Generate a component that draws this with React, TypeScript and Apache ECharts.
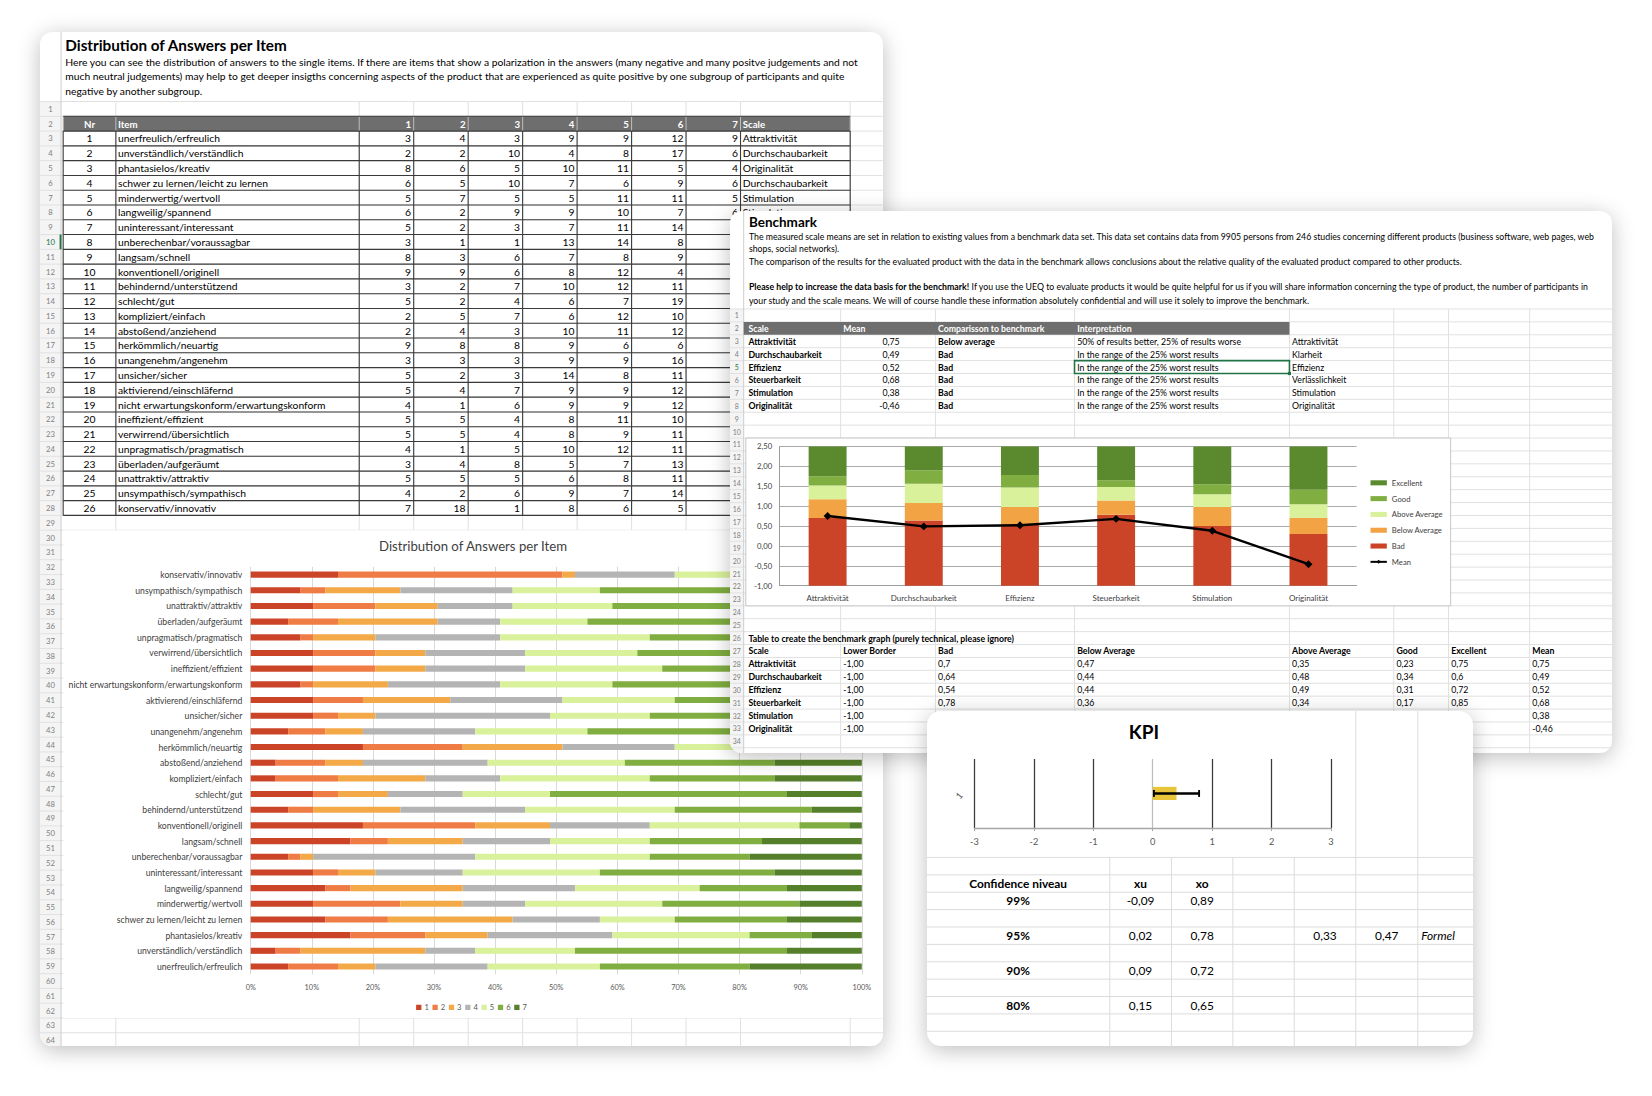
import React, { useEffect, useRef } from "react";
import * as echarts from "echarts";

const K = 1652 / 1568;
const FONT = "Lato, 'Noto Sans', 'DejaVu Sans', sans-serif";
const GREEN_SEL = "#217346";

// ---------------- DATA: distribution of answers ----------------
const itemNames = [
  "unerfreulich/erfreulich", "unverständlich/verständlich", "phantasielos/kreativ",
  "schwer zu lernen/leicht zu lernen", "minderwertig/wertvoll", "langweilig/spannend",
  "uninteressant/interessant", "unberechenbar/voraussagbar", "langsam/schnell",
  "konventionell/originell", "behindernd/unterstützend", "schlecht/gut",
  "kompliziert/einfach", "abstoßend/anziehend", "herkömmlich/neuartig",
  "unangenehm/angenehm", "unsicher/sicher", "aktivierend/einschläfernd",
  "nicht erwartungskonform/erwartungskonform", "ineffizient/effizient",
  "verwirrend/übersichtlich", "unpragmatisch/pragmatisch", "überladen/aufgeräumt",
  "unattraktiv/attraktiv", "unsympathisch/sympathisch", "konservativ/innovativ",
];
const itemScales = [
  "Attraktivität", "Durchschaubarkeit", "Originalität", "Durchschaubarkeit", "Stimulation",
  "Stimulation", "Stimulation", "Steuerbarkeit", "Effizienz", "Originalität", "Steuerbarkeit",
  "Attraktivität", "Durchschaubarkeit", "Attraktivität", "Originalität", "Attraktivität",
  "Steuerbarkeit", "Stimulation", "Steuerbarkeit", "Effizienz", "Durchschaubarkeit",
  "Effizienz", "Effizienz", "Attraktivität", "Attraktivität", "Originalität",
];
const answers1 = [3, 2, 8, 6, 5, 6, 5, 3, 8, 9, 3, 5, 2, 2, 9, 3, 5, 5, 4, 5, 5, 4, 3, 5, 4, 7];
const answers2 = [4, 2, 6, 5, 7, 2, 2, 1, 3, 9, 2, 2, 5, 4, 8, 3, 2, 4, 1, 5, 5, 1, 4, 5, 2, 18];
const answers3 = [3, 10, 5, 10, 5, 9, 3, 1, 6, 6, 7, 4, 7, 3, 8, 3, 3, 7, 6, 4, 4, 5, 8, 5, 6, 1];
const answers4 = [9, 4, 10, 7, 5, 9, 7, 13, 7, 8, 10, 6, 6, 10, 9, 9, 14, 9, 9, 8, 8, 10, 5, 6, 9, 8];
const answers5 = [9, 8, 11, 6, 11, 10, 11, 14, 8, 12, 12, 7, 12, 11, 6, 9, 8, 9, 9, 11, 9, 12, 7, 8, 7, 6];
const answers6 = [12, 17, 5, 9, 11, 7, 14, 8, 9, 4, 11, 19, 10, 12, 6, 16, 11, 12, 12, 10, 11, 11, 13, 11, 14, 5];
const answers7 = [9, 6, 4, 6, 5, 6, 7, 9, 8, 1, 4, 6, 7, 7, 3, 6, 6, 3, 8, 6, 7, 6, 9, 9, 7, 4];
const answerCategories = ["1", "2", "3", "4", "5", "6", "7"];
const answerColors = ["#cb4427", "#ef7b45", "#f4a948", "#b4b4b4", "#d9f19b", "#80ae40", "#557f2a"];
const pctTicks = [0, 100, 10];

const leftTitle = "Distribution of Answers per Item";
const leftDescription = [
  "Here you can see the distribution of answers to the single items. If there are items that show a polarization in the answers (many negative and many positve judgements and not",
  "much neutral judgements) may help to get deeper insigths concerning aspects of the product that are experienced as quite positive by one subgroup of participants and quite",
  "negative by another subgroup.",
];

// ---------------- DATA: benchmark ----------------
const benchScales = ["Attraktivität", "Durchschaubarkeit", "Effizienz", "Steuerbarkeit", "Stimulation", "Originalität"];
const benchMeans = [0.75, 0.49, 0.52, 0.68, 0.38, -0.46];
const benchComparison = ["Below average", "Bad", "Bad", "Bad", "Bad", "Bad"];
const benchInterpretation = [
  "50% of results better, 25% of results worse",
  "In the range of the 25% worst results",
  "In the range of the 25% worst results",
  "In the range of the 25% worst results",
  "In the range of the 25% worst results",
  "In the range of the 25% worst results",
];
const benchAltNames = ["Attraktivität", "Klarheit", "Effizienz", "Verlässlichkeit", "Stimulation", "Originalität"];
const lowerBorder = [-1, -1, -1, -1, -1, -1];
const bandBad = [0.7, 0.64, 0.54, 0.78, 0.5, 0.3];
const bandBelow = [0.47, 0.44, 0.44, 0.36, 0.48, 0.41];
const bandAbove = [0.35, 0.48, 0.49, 0.34, 0.32, 0.34];
const bandGood = [0.23, 0.34, 0.31, 0.17, 0.25, 0.36];
const bandExcellent = [0.75, 0.6, 0.72, 0.85, 0.95, 1.09];
const benchBandNames = ["Bad", "Below Average", "Above Average", "Good", "Excellent"];
const benchBandColors = ["#cb4427", "#f2a444", "#d9f19b", "#80ae40", "#5a8a2d"];
const benchTableHeaders = ["Scale", "Lower Border", "Bad", "Below Average", "Above Average", "Good", "Excellent", "Mean"];
const benchTopHeaders = ["Scale", "Mean", "Comparisson to benchmark", "Interpretation"];
const benchTexts = [
  "The measured scale means are set in relation to existing values from a benchmark data set. This data set contains data from 9905 persons from 246 studies concerning different products (business software, web pages, web",
  "shops, social networks).",
  "The comparison of the results for the evaluated product with the data in the benchmark allows conclusions about the relative quality of the evaluated product compared to other products.",
];
const benchPleaseBold = "Please help to increase the data basis for the benchmark!";
const benchPleaseRest = " If you use the UEQ to evaluate products it would be quite helpful for us if you will share information concerning the type of product, the number of participants in";
const benchLastLine = "your study and the scale means. We will of course handle these information absolutely confidential and will use it solely to improve the benchmark.";

// ---------------- DATA: KPI ----------------
const kpiCategory = ["1"];
const kpiValue = [0.4];
const kpiLow = [0.02];
const kpiHigh = [0.78];
const confLevels = ["99%", "95%", "90%", "80%"];
const confXu = [-0.09, 0.02, 0.09, 0.15];
const confXo = [0.89, 0.78, 0.72, 0.65];
const kpiExtra = [0.33, 0.47];

const fmt2 = (v: number) => v.toFixed(2).replace(".", ",");
const fmtRaw = (v: number) => String(v).replace(".", ",");

// ---------------- helpers ----------------
function txt(x: number, y: number, text: string, size: number, o: any = {}) {
  const style: any = {
    text,
    fontSize: size,
    fontFamily: FONT,
    fontWeight: o.bold ? "bold" : "normal",
    fontStyle: o.italic ? "italic" : "normal",
    fill: o.fill ?? "#000",
    align: o.align ?? "left",
    verticalAlign: "middle",
  };
  if (o.rich) style.rich = o.rich;
  return { type: "text", x, y, z: o.z ?? 4, silent: true, style };
}
function ln(x1: number, y1: number, x2: number, y2: number, stroke: string, lw = 1, z = 0) {
  return { type: "line", z, silent: true, shape: { x1, y1, x2, y2 }, style: { stroke, lineWidth: lw } };
}
function rc(x: number, y: number, w: number, h: number, fill: string, z = 1, stroke?: string, lw = 1) {
  return {
    type: "rect", z, silent: true,
    shape: { x, y, width: w, height: h },
    style: { fill, stroke: stroke ?? null, lineWidth: lw },
  };
}

// ---------------- left panel ----------------
function buildLeft(W: number, H: number) {
  const ox = 38, oy = 30;
  const X = (v: number) => (v - ox) * K;
  const Y = (v: number) => (v - oy) * K;
  const S = (v: number) => v * K;
  const rowH = 14.03;
  const rowTop = (r: number) => 96 + (r - 1) * rowH;
  const rowMid = (r: number) => rowTop(r) + rowH / 2;
  const bottom = 993;
  const coveredFromY = 203; // area right of x=690 is covered by the benchmark sheet below this
  const sheetCols = [110, 341, 392.7, 444.4, 496.1, 547.8, 599.5, 651.2, 702.9, 807];
  const tableCols = [60, ...sheetCols];
  const fsT = S(9.8);
  const els: any[] = [];

  els.push(rc(X(38), Y(96), S(20), Y(bottom) - Y(96), "#f4f4f4", 0));
  for (let r = 1; rowTop(r) <= bottom; r++) els.push(ln(X(38), Y(rowTop(r)), X(838), Y(rowTop(r)), "#e1e1e1", 1, 0));
  sheetCols.forEach((c) => els.push(ln(X(c), Y(96), X(c), Y(bottom), "#e1e1e1", 1, 0)));
  els.push(ln(X(58), Y(30), X(58), Y(bottom), "#cdcdcd", 1, 0));
  for (let r = 1; rowMid(r) < bottom; r++) {
    els.push(txt(X(48), Y(rowMid(r)), String(r), S(7.3), { align: "center", fill: r === 10 ? GREEN_SEL : "#808080", z: 1 }));
  }
  els.push(rc(X(56.6), Y(rowTop(10)), S(1.8), S(rowH), GREEN_SEL, 1));

  els.push(txt(X(62), Y(42), leftTitle, S(14.5), { bold: true }));
  leftDescription.forEach((line, k) => els.push(txt(X(62), Y(58 + k * 14.2), line, S(9.8))));

  // table header
  els.push(rc(X(60), Y(rowTop(2)), X(807) - X(60), S(rowH), "#6e6e6e", 1));
  const hy = Y(rowMid(2));
  const hOpt = { bold: true, fill: "#fff", z: 3 };
  els.push(txt(X(85), hy, "Nr", S(9.2), { ...hOpt, align: "center" }));
  els.push(txt(X(112), hy, "Item", S(9.2), hOpt));
  answerCategories.forEach((c, k) => els.push(txt(X(tableCols[k + 3] - 2.5), hy, c, S(9.2), { ...hOpt, align: "right" })));
  els.push(txt(X(705), hy, "Scale", S(9.2), hOpt));
  tableCols.forEach((c) => els.push(ln(X(c), Y(rowTop(2)), X(c), Y(rowTop(3)), "#bdbdbd", 1, 2)));

  // table body
  const answersAll = [answers1, answers2, answers3, answers4, answers5, answers6, answers7];
  itemNames.forEach((name, i) => {
    const ym = rowMid(i + 3);
    const y = Y(ym);
    const visibleRight = ym < coveredFromY;
    els.push(txt(X(85), y, String(i + 1), fsT, { align: "center" }));
    els.push(txt(X(112), y, name, fsT));
    answersAll.forEach((arr, k) => {
      if (k < 6 || visibleRight) els.push(txt(X(tableCols[k + 3] - 2.5), y, String(arr[i]), fsT, { align: "right" }));
    });
    if (visibleRight) els.push(txt(X(705), y, itemScales[i], fsT));
  });
  for (let r = 2; r <= 29; r++) els.push(ln(X(60), Y(rowTop(r)), X(807), Y(rowTop(r)), "#3a3a3a", 1.1, 2));
  tableCols.forEach((c) => els.push(ln(X(c), Y(rowTop(3)), X(c), Y(rowTop(29)), "#3a3a3a", 1.1, 2)));

  // chart area
  els.push(rc(X(60), Y(rowTop(30)), X(838) - X(60) + 2, Y(rowTop(63)) - Y(rowTop(30)), "#ffffff", 1));
  els.push(txt(X(449), Y(518), leftTitle, S(12.5), { align: "center", fill: "#404040", z: 5 }));

  const total = itemNames.map((_, i) => answersAll.reduce((s, a) => s + a[i], 0));

  return {
    animation: false,
    graphic: els,
    grid: { left: X(238), right: W - X(818), top: Y(537.6), bottom: H - Y(924.4), containLabel: false },
    legend: {
      data: answerCategories,
      left: X(395),
      top: Y(952),
      padding: 0,
      icon: "rect",
      itemWidth: S(5),
      itemHeight: S(5),
      itemGap: S(3.5),
      textStyle: { fontSize: S(7.2), color: "#595959", fontFamily: FONT, padding: [0, 0, 0, -2] },
      z: 6,
    },
    xAxis: {
      type: "value",
      min: pctTicks[0],
      max: pctTicks[1],
      interval: pctTicks[2],
      z: 2,
      axisLine: { show: false },
      axisTick: { show: false },
      axisLabel: { formatter: "{value}%", fontSize: S(7), color: "#595959", fontFamily: FONT, margin: S(9) },
      splitLine: { lineStyle: { color: "#d9d9d9", width: 1 } },
    },
    yAxis: {
      type: "category",
      data: itemNames,
      z: 2,
      axisLine: { show: false },
      axisTick: { show: false },
      axisLabel: { fontSize: S(8.2), color: "#404040", fontFamily: FONT, margin: S(8) },
    },
    series: answersAll.map((arr, j) => ({
      name: answerCategories[j],
      type: "bar",
      stack: "answers",
      barWidth: S(5.8),
      z: 3,
      itemStyle: { color: answerColors[j] },
      data: arr.map((v, i) => Math.round((v / total[i]) * 100000) / 1000),
    })),
  };
}

// ---------------- benchmark panel ----------------
function buildBench(W: number, H: number) {
  const ox = 693, oy = 200;
  const X = (v: number) => (v - ox) * K;
  const Y = (v: number) => (v - oy) * K;
  const S = (v: number) => v * K;
  const rowH = 12.25;
  const rowTop = (r: number) => 293 + (r - 1) * rowH;
  const rowMid = (r: number) => rowTop(r) + rowH / 2;
  const bottom = 715;
  const cols = [798, 888, 1020, 1224, 1323, 1375, 1452];
  const textCols = [710.5, 800.5, 890.5, 1022.5, 1226.5, 1325.5, 1377.5, 1454.5];
  const fs = S(8.3);
  const fsC = S(7.3);
  const els: any[] = [];

  els.push(rc(X(693), Y(293), X(706) - X(693), Y(bottom) - Y(293), "#f4f4f4", 0));
  for (let r = 1; rowTop(r) <= bottom; r++) els.push(ln(X(693), Y(rowTop(r)), X(1535), Y(rowTop(r)), "#e1e1e1", 1, 0));
  cols.forEach((c) => els.push(ln(X(c), Y(293), X(c), Y(bottom), "#e1e1e1", 1, 0)));
  els.push(ln(X(706), Y(200), X(706), Y(bottom), "#cdcdcd", 1, 0));
  for (let r = 1; rowMid(r) < bottom; r++) {
    els.push(txt(X(699.5), Y(rowMid(r)), String(r), S(6.6), { align: "center", fill: r === 5 ? GREEN_SEL : "#808080", z: 1 }));
  }

  els.push(txt(X(711), Y(210.5), "Benchmark", S(12.8), { bold: true }));
  els.push(txt(X(711), Y(224), benchTexts[0], fs));
  els.push(txt(X(711), Y(236), benchTexts[1], fs));
  els.push(txt(X(711), Y(248), benchTexts[2], fs));
  els.push(txt(X(711), Y(272), `{b|${benchPleaseBold}}{n|${benchPleaseRest}}`, fs, {
    rich: {
      b: { fontWeight: "bold", fontSize: fs, fontFamily: FONT, fill: "#000" },
      n: { fontSize: fs, fontFamily: FONT, fill: "#000" },
    },
  }));
  els.push(txt(X(711), Y(284.5), benchLastLine, fs));

  // top table
  els.push(rc(X(706), Y(rowTop(2)), X(1224) - X(706), S(rowH), "#6e6e6e", 1));
  [710.5, 800.5, 890.5, 1022.5].forEach((c, k) =>
    els.push(txt(X(c), Y(rowMid(2)), benchTopHeaders[k], fs, { bold: true, fill: "#fff" })));
  benchScales.forEach((s, i) => {
    const y = Y(rowMid(i + 3));
    els.push(txt(X(710.5), y, s, fs, { bold: true }));
    els.push(txt(X(854), y, fmt2(benchMeans[i]), fs, { align: "right" }));
    els.push(txt(X(890.5), y, benchComparison[i], fs, { bold: true }));
    els.push(txt(X(1022.5), y, benchInterpretation[i], fs));
    els.push(txt(X(1226.5), y, benchAltNames[i], fs));
  });
  els.push(rc(X(1020), Y(rowTop(5)), X(1224) - X(1020), S(rowH), "rgba(0,0,0,0)", 3, GREEN_SEL, S(1.5)));
  els.push(rc(X(1222.5), Y(rowTop(6)) - S(1.5), S(3), S(3), GREEN_SEL, 3));

  // chart box
  els.push(rc(X(708), Y(rowTop(11)), X(1377) - X(708), Y(rowTop(24)) - Y(rowTop(11)), "#ffffff", 1, "#c6c6c6", 1));

  // bottom table (cells behind the KPI sheet are not drawn)
  els.push(txt(X(710.5), Y(rowMid(26)), "Table to create the benchmark graph (purely technical, please ignore)", fs, { bold: true }));
  benchTableHeaders.forEach((h, k) => els.push(txt(X(textCols[k]), Y(rowMid(27)), h, fs, { bold: true })));
  benchScales.forEach((s, i) => {
    const ym = rowMid(i + 28);
    const y = Y(ym);
    const vals = [fmt2(lowerBorder[i]), fmtRaw(bandBad[i]), fmtRaw(bandBelow[i]), fmtRaw(bandAbove[i]),
      fmtRaw(bandGood[i]), fmtRaw(bandExcellent[i]), fmt2(benchMeans[i])];
    els.push(txt(X(textCols[0]), y, s, fs, { bold: true }));
    vals.forEach((v, k) => {
      const cx = textCols[k + 1];
      const hidden = ym > 674 && cx > 878 && cx < 1400;
      if (!hidden) els.push(txt(X(cx), y, v, fs));
    });
  });

  const bands = [bandBad, bandBelow, bandAbove, bandGood, bandExcellent];
  return {
    animation: false,
    graphic: els,
    grid: { left: X(740), right: W - X(1287.7), top: Y(423.5), bottom: H - Y(555.6), containLabel: false },
    legend: {
      orient: "vertical",
      left: X(1300),
      top: Y(453.5),
      padding: 0,
      itemWidth: S(15.5),
      itemHeight: S(4.8),
      itemGap: S(6),
      textStyle: { fontSize: fsC, color: "#404040", fontFamily: FONT, lineHeight: S(9) },
      data: [
        { name: "Excellent", icon: "rect" },
        { name: "Good", icon: "rect" },
        { name: "Above Average", icon: "rect" },
        { name: "Below Average", icon: "rect" },
        { name: "Bad", icon: "rect" },
        { name: "Mean" },
      ],
      z: 6,
    },
    xAxis: {
      type: "category",
      data: benchScales,
      z: 2,
      axisLine: { onZero: false, lineStyle: { color: "#9c9c9c" } },
      axisTick: { show: false },
      axisLabel: { fontSize: S(7.6), color: "#404040", fontFamily: FONT, margin: S(8) },
    },
    yAxis: {
      type: "value",
      min: -1,
      max: 2.5,
      interval: 0.5,
      z: 2,
      axisLine: { show: true, lineStyle: { color: "#9c9c9c" } },
      axisTick: { show: false },
      axisLabel: { fontSize: fsC, color: "#404040", fontFamily: FONT, margin: S(7), formatter: (v: number) => fmt2(v) },
      splitLine: { lineStyle: { color: "#ababab", width: 1 } },
    },
    series: [
      { name: "Lower Border", type: "bar", stack: "bm", barWidth: S(36), z: 3, itemStyle: { color: benchBandColors[0] }, data: lowerBorder },
      ...bands.map((d, j) => ({
        name: benchBandNames[j], type: "bar", stack: "bm", barWidth: S(36), z: 3,
        itemStyle: { color: benchBandColors[j] }, data: d,
      })),
      {
        name: "Mean", type: "line", z: 5, data: benchMeans, symbol: "diamond", symbolSize: S(7.5),
        lineStyle: { color: "#000", width: S(2.3) }, itemStyle: { color: "#000" },
      },
    ],
  };
}

// ---------------- KPI panel ----------------
function buildKpi(W: number, H: number) {
  const ox = 880, oy = 675;
  const X = (v: number) => (v - ox) * K;
  const Y = (v: number) => (v - oy) * K;
  const S = (v: number) => v * K;
  const rowH = 16.5;
  const bottom = 993;
  const els: any[] = [];
  for (let k = 0; 814 + k * rowH <= bottom; k++) els.push(ln(X(880), Y(814 + k * rowH), X(1400), Y(814 + k * rowH), "#dcdcdc", 1, 0));
  [1053.5, 1112, 1170.3, 1228.6].forEach((c) => els.push(ln(X(c), Y(814), X(c), Y(bottom), "#dcdcdc", 1, 0)));
  [1287, 1345.8].forEach((c) => els.push(ln(X(c), Y(675), X(c), Y(bottom), "#dcdcdc", 1, 0)));

  els.push(txt(X(1086), Y(694.5), "KPI", S(18), { bold: true, align: "center" }));
  const fs = S(11.3);
  const mid = (k: number) => Y(814 + k * rowH + rowH / 2);
  els.push(txt(X(966.5), mid(1), "Confidence niveau", fs, { bold: true, align: "center" }));
  els.push(txt(X(1082.7), mid(1), "xu", fs, { bold: true, align: "center" }));
  els.push(txt(X(1141.1), mid(1), "xo", fs, { bold: true, align: "center" }));
  confLevels.forEach((c, i) => {
    const y = mid(2 + 2 * i);
    els.push(txt(X(966.5), y, c, fs, { bold: true, align: "center" }));
    els.push(txt(X(1082.7), y, fmt2(confXu[i]), fs, { align: "center" }));
    els.push(txt(X(1141.1), y, fmt2(confXo[i]), fs, { align: "center" }));
  });
  els.push(txt(X(1257.8), mid(4), fmt2(kpiExtra[0]), fs, { align: "center" }));
  els.push(txt(X(1316.4), mid(4), fmt2(kpiExtra[1]), fs, { align: "center" }));
  els.push(txt(X(1349), mid(4), "Formel", fs, { italic: true }));

  const dark = "#3a3a3a";
  return {
    animation: false,
    graphic: els,
    grid: { left: X(925), right: W - X(1263.5), top: Y(720.5), bottom: H - Y(786), containLabel: false },
    xAxis: {
      type: "value",
      min: -3,
      max: 3,
      interval: 1,
      z: 2,
      axisLine: { show: true, lineStyle: { color: "#a6a6a6", width: S(1.4) } },
      axisTick: { show: true, length: S(3), lineStyle: { color: "#a6a6a6" } },
      axisLabel: { fontSize: S(8.8), color: "#595959", fontFamily: FONT, margin: S(9) },
      splitLine: { show: true, lineStyle: { color: [dark, dark, dark, "#bdbdbd", dark, dark, dark], width: S(1.2) } },
    },
    yAxis: {
      type: "category",
      data: kpiCategory,
      z: 2,
      axisLine: { show: false },
      axisTick: { show: false },
      axisLabel: { rotate: 50, fontSize: S(8.5), color: "#595959", fontFamily: FONT, margin: S(13) },
    },
    series: [
      { name: "KPI", type: "bar", data: kpiValue, barWidth: S(12.5), z: 3, itemStyle: { color: "#e8c53a" } },
      {
        name: "Confidence", type: "custom", z: 5,
        data: kpiLow.map((lo, i) => [lo, kpiHigh[i], i]),
        encode: { x: [0, 1], y: 2 },
        renderItem: (params: any, api: any) => {
          const c = api.value(2);
          const p1 = api.coord([api.value(0), c]);
          const p2 = api.coord([api.value(1), c]);
          const y = p1[1];
          const h = S(3.3);
          return {
            type: "group",
            children: [
              { type: "line", shape: { x1: p1[0], y1: y, x2: p2[0], y2: y }, style: { stroke: "#000", lineWidth: S(2.3) } },
              { type: "line", shape: { x1: p1[0], y1: y - h, x2: p1[0], y2: y + h }, style: { stroke: "#000", lineWidth: S(1.8) } },
              { type: "line", shape: { x1: p2[0], y1: y - h, x2: p2[0], y2: y + h }, style: { stroke: "#000", lineWidth: S(1.8) } },
            ],
          };
        },
      },
    ],
  };
}

function Panel(props: { sx: number; sy: number; sw: number; sh: number; radius: number; build: (w: number, h: number) => any }) {
  const ref = useRef<HTMLDivElement>(null);
  const w = props.sw * K;
  const h = props.sh * K;
  useEffect(() => {
    const chart = echarts.init(ref.current as HTMLDivElement, null, { renderer: "svg", width: w, height: h });
    chart.setOption(props.build(w, h));
    return () => chart.dispose();
  }, []);
  return (
    <div
      style={{
        position: "absolute",
        left: props.sx * K,
        top: props.sy * K,
        width: w,
        height: h,
        borderRadius: props.radius,
        overflow: "hidden",
        background: "#fff",
        boxShadow: "0 4px 22px rgba(0,0,0,0.26)",
      }}
    >
      <div ref={ref} style={{ width: w, height: h }} />
    </div>
  );
}

export default function App() {
  return (
    <div style={{ position: "absolute", left: 0, top: 0, width: 1652, height: 1096, background: "#fff", overflow: "hidden" }}>
      <Panel sx={38} sy={30} sw={800} sh={963} radius={12} build={buildLeft} />
      <Panel sx={693} sy={200} sw={837} sh={515} radius={12} build={buildBench} />
      <Panel sx={880} sy={675} sw={518} sh={318} radius={14} build={buildKpi} />
    </div>
  );
}
